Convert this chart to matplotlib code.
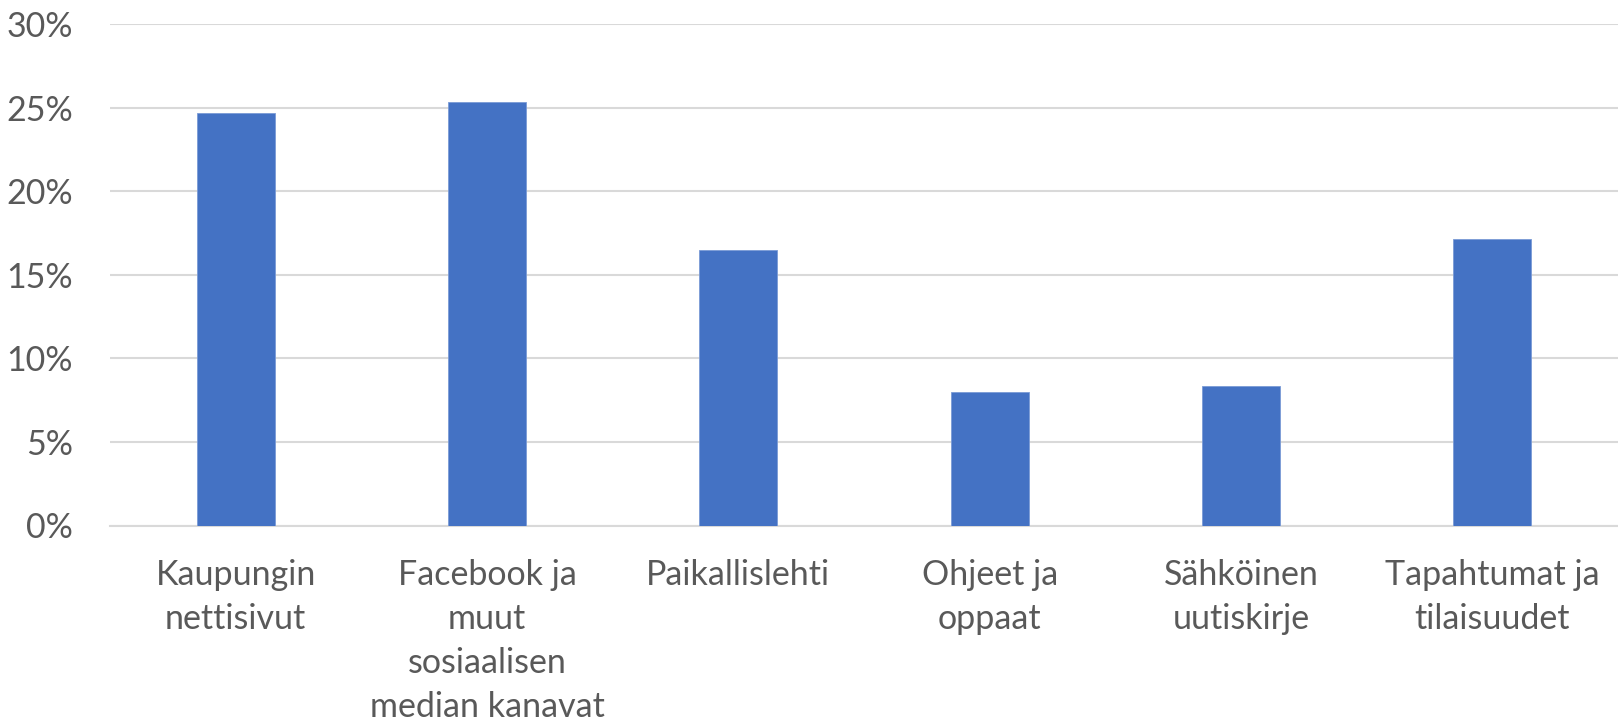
import matplotlib
matplotlib.use("Agg")
import matplotlib.pyplot as plt
from matplotlib.ticker import FuncFormatter, MultipleLocator

categories = ["Kaupungin\nnettisivut", "Facebook ja\nmuut\nsosiaalisen\nmedian kanavat",
              "Paikallislehti", "Ohjeet ja\noppaat", "Sähköinen\nuutiskirje", "Tapahtumat ja\ntilaisuudet"]
values = [0.2466, 0.2533, 0.1648, 0.0799, 0.0833, 0.1716]

plt.rcParams['font.family'] = ['Lato', 'DejaVu Sans']
text_color = "#595959"
grid_color = "#D9D9D9"
bar_color = "#4472C4"

W, H = 1618, 725
fig = plt.figure(figsize=(W / 100, H / 100), dpi=100)
left, right = 110 / W, 1.0
bottom, top = 1 - 525.5 / H, 1 - 24 / H
ax = fig.add_axes([left, bottom, right - left, top - bottom])

x = list(range(len(categories)))
ax.bar(x, values, width=0.31, color=bar_color, edgecolor="#7A9BD6", linewidth=0.6, zorder=3)

ax.set_xlim(-0.5, len(categories) - 0.5)
ax.set_ylim(0, 0.30)
ax.yaxis.set_major_locator(MultipleLocator(0.05))
ax.yaxis.set_major_formatter(FuncFormatter(lambda v, p: f"{v*100:.0f}%"))
ax.grid(axis="y", color=grid_color, linewidth=1.5, zorder=0)
ax.set_axisbelow(True)

for s in ["top", "right", "left"]:
    ax.spines[s].set_visible(False)
ax.spines["bottom"].set_color(grid_color)
ax.spines["bottom"].set_linewidth(1.5)
ax.spines["bottom"].set_zorder(2)

ax.set_xticks(x)
ax.set_xticklabels(categories, fontsize=24.5, color=text_color, linespacing=1.47)
ax.tick_params(axis="x", length=0, pad=24)
ax.tick_params(axis="y", length=0, pad=26.5, labelsize=24.5, labelcolor=text_color)

fig.savefig("out.png", dpi=100, facecolor="white")
